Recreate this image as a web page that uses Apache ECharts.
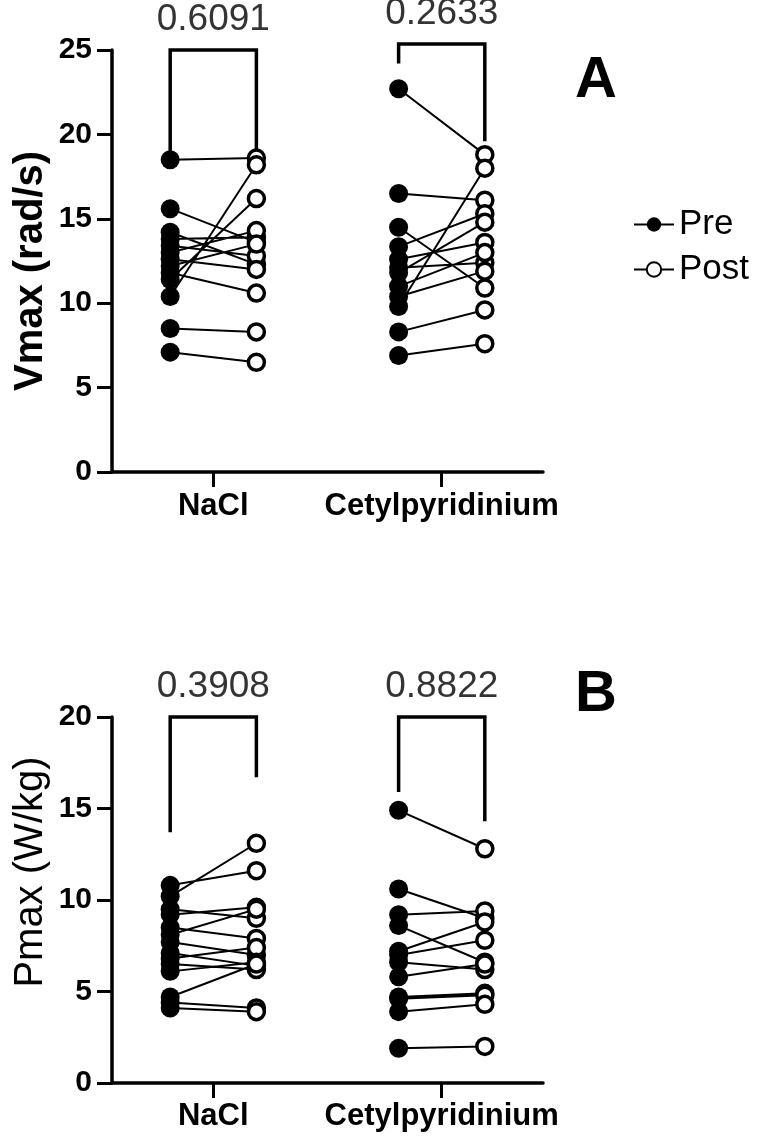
<!DOCTYPE html>
<html>
<head>
  <meta charset="utf-8">
  <title>Vmax / Pmax</title>
  <script src="https://cdn.jsdelivr.net/npm/echarts@6/dist/echarts.min.js"></script>
  <style>
    html, body { margin: 0; padding: 0; background: #fff; }
    #main { width: 771px; height: 1145px; }
  </style>
</head>
<body>
<div id="main"></div>
<script>
// groups and x positions (x axis is 0..10)
var groups = ['NaCl', 'Cetylpyridinium'];
var groupX = [2.35, 7.65];
var pairOffset = 1.0;

// panel A - Vmax (rad/s)
var vmaxNaclPre  = [18.5, 15.6, 14.2, 13.8, 13.4, 13.0, 12.6, 12.2, 11.8, 11.4, 10.4, 8.5, 7.1];
var vmaxNaclPost = [18.6, 13.6, 12.3, 13.9, 12.8, 14.3, 12.0, 13.5, 10.6, 16.2, 18.2, 8.3, 6.5];
var vmaxCetylPre  = [22.7, 16.5, 14.5, 13.35, 12.6, 12.1, 11.8, 11.0, 10.4, 9.8, 8.3, 6.9];
var vmaxCetylPost = [18.8, 16.1, 10.9, 15.3, 13.6, 12.4, 14.8, 13.0, 11.9, 18.0, 9.6, 7.6];
var vmaxPvalues = ['0.6091', '0.2633'];
// bracket: [left leg end, top, right leg end]
var vmaxBrackets = [[19.1, 25, 19.1], [24.3, 25.35, 19.7]];

// panel B - Pmax (W/kg)
var pmaxNaclPre  = [10.8, 10.2, 9.5, 9.2, 8.5, 8.1, 7.7, 7.1, 6.8, 6.5, 6.1, 4.7, 4.4, 4.1];
var pmaxNaclPost = [11.6, 13.1, 9.0, 9.6, 7.9, 9.5, 7.0, 6.4, 7.4, 6.2, 6.6, 6.5, 4.1, 3.9];
var pmaxCetylPre  = [14.9, 10.6, 9.2, 8.6, 7.2, 7.0, 6.6, 5.8, 4.7, 4.6, 3.9, 1.9];
var pmaxCetylPost = [12.8, 9.0, 9.4, 6.6, 8.8, 7.8, 6.2, 6.5, 4.9, 4.8, 4.3, 2.0];
var pmaxPvalues = ['0.3908', '0.8822'];
var pmaxBrackets = [[13.8, 20, 16.8], [16.0, 20, 14.4]];

var FONT = '"Liberation Sans", Arial, sans-serif';

function pairLines(pre, post, gi) {
  var out = [];
  for (var i = 0; i < pre.length; i++) {
    out.push([groupX[gi] - pairOffset, pre[i]]);
    out.push([groupX[gi] + pairOffset, post[i]]);
    out.push('-');
  }
  return out;
}
function points(vals, gi, side) {
  return vals.map(function (v) { return [groupX[gi] + side * pairOffset, v]; });
}
function bracket(b, gi) {
  var l = groupX[gi] - pairOffset, r = groupX[gi] + pairOffset;
  return [[l, b[0]], [l, b[1]], [r, b[1]], [r, b[2]]];
}

function panelSeries(idx, naclPre, naclPost, cetPre, cetPost, brackets, pvals) {
  var s = [];
  s.push({
    type: 'line', xAxisIndex: idx, yAxisIndex: idx, silent: true,
    data: pairLines(naclPre, naclPost, 0).concat(pairLines(cetPre, cetPost, 1)),
    showSymbol: false, connectNulls: false,
    lineStyle: { color: '#000', width: 2 }, z: 2
  });
  for (var g = 0; g < 2; g++) {
    s.push({
      type: 'line', xAxisIndex: idx, yAxisIndex: idx, silent: true, clip: false,
      data: bracket(brackets[g], g), showSymbol: false,
      lineStyle: { color: '#000', width: 3.5, cap: 'square', join: 'miter' }
    });
    s.push({
      type: 'scatter', xAxisIndex: idx, yAxisIndex: idx, silent: true, clip: false,
      symbolSize: 0,
      data: [[groupX[g], brackets[g][1]]],
      label: {
        show: true, position: 'top', distance: 12,
        formatter: pvals[g], fontFamily: FONT, fontSize: 37, color: '#000'
      }
    });
  }
  s.push({
    name: 'Pre', type: 'line', xAxisIndex: idx, yAxisIndex: idx,
    data: points(naclPre, 0, -1).concat(points(cetPre, 1, -1)),
    symbol: 'circle', symbolSize: 19, showAllSymbol: true,
    lineStyle: { opacity: 0 },
    itemStyle: { color: '#000', borderColor: '#000', borderWidth: 0 }, z: 4
  });
  s.push({
    name: 'Post', type: 'line', xAxisIndex: idx, yAxisIndex: idx,
    data: points(naclPost, 0, 1).concat(points(cetPost, 1, 1)),
    symbol: 'circle', symbolSize: 16, showAllSymbol: true,
    lineStyle: { opacity: 0 },
    itemStyle: { color: '#fff', borderColor: '#000', borderWidth: 3.5, opacity: 1 }, z: 4
  });
  return s;
}

function xAxisCfg(idx, margin) {
  return {
    gridIndex: idx, type: 'value', min: 0, max: 10,
    splitLine: { show: false },
    axisLine: { onZero: false, lineStyle: { color: '#000', width: 3.5 } },
    axisTick: { show: true, customValues: groupX, length: 15, inside: false, lineStyle: { color: '#000', width: 3 } },
    axisLabel: {
      customValues: groupX, margin: margin,
      formatter: function (v) { return groups[groupX.indexOf(v)] || ''; },
      fontFamily: FONT, fontWeight: 'bold', fontSize: 31, color: '#000'
    }
  };
}
function yAxisCfg(idx, max) {
  return {
    gridIndex: idx, type: 'value', min: 0, max: max, interval: 5,
    splitLine: { show: false },
    axisLine: { show: true, lineStyle: { color: '#000', width: 3.5 } },
    axisTick: { show: true, length: 15, lineStyle: { color: '#000', width: 3 } },
    axisLabel: { margin: 20, fontFamily: FONT, fontWeight: 'bold', fontSize: 30, color: '#000' }
  };
}

var chart = echarts.init(document.getElementById('main'), null, { renderer: 'canvas' });
var option = {
  animation: false,
  backgroundColor: '#fff',
  grid: [
    { left: 112, top: 50, width: 431, height: 422 },
    { left: 112, top: 717, width: 431, height: 366 }
  ],
  xAxis: [xAxisCfg(0, 19), xAxisCfg(1, 18)],
  yAxis: [yAxisCfg(0, 25), yAxisCfg(1, 20)],
  legend: {
    data: ['Pre', 'Post'], orient: 'vertical', left: 628, top: 202,
    itemWidth: 40, itemHeight: 18, itemGap: 10,
    textStyle: { fontFamily: FONT, fontSize: 35, color: '#000' },
    lineStyle: { color: '#000', width: 2, opacity: 1 },
    selectedMode: false
  },
  graphic: [
    { type: 'text', x: 31, y: 271, rotation: Math.PI / 2,
      style: { text: 'Vmax (rad/s)', font: 'bold 40px ' + FONT, fill: '#000', align: 'center', verticalAlign: 'middle' } },
    { type: 'text', x: 31, y: 872, rotation: Math.PI / 2,
      style: { text: 'Pmax (W/kg)', font: '40px ' + FONT, fill: '#000', align: 'center', verticalAlign: 'middle' } },
    { type: 'text', left: 575, top: 52, style: { text: 'A', font: 'bold 58px ' + FONT, fill: '#000' } },
    { type: 'text', left: 575, top: 666, style: { text: 'B', font: 'bold 58px ' + FONT, fill: '#000' } }
  ],
  series: panelSeries(0, vmaxNaclPre, vmaxNaclPost, vmaxCetylPre, vmaxCetylPost, vmaxBrackets, vmaxPvalues)
    .concat(panelSeries(1, pmaxNaclPre, pmaxNaclPost, pmaxCetylPre, pmaxCetylPost, pmaxBrackets, pmaxPvalues))
};
chart.setOption(option);
</script>
</body>
</html>
